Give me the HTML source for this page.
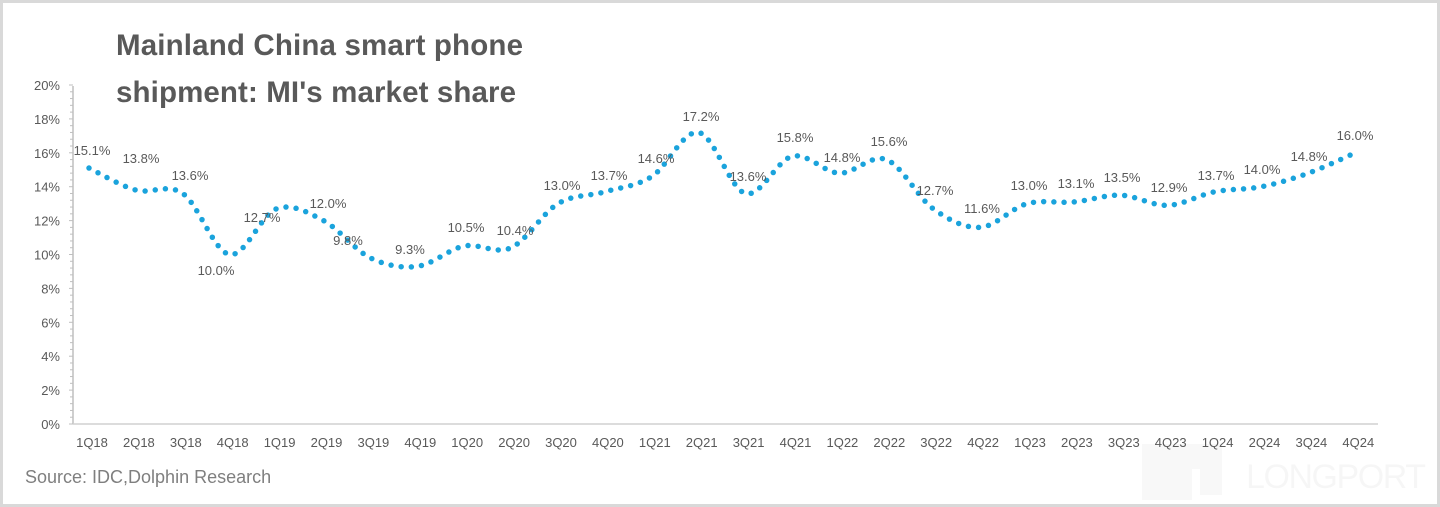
<!DOCTYPE html>
<html><head><meta charset="utf-8"><style>
html,body{margin:0;padding:0;background:#fff;}
#w{position:relative;width:1440px;height:507px;overflow:hidden;font-family:"Liberation Sans",sans-serif;}
</style></head><body><div id="w">
<svg id="s" width="1440" height="507" xmlns="http://www.w3.org/2000/svg" style="position:absolute;left:0;top:0">
<rect x="1.5" y="1.5" width="1437" height="504" fill="#fff" stroke="#d9d9d9" stroke-width="3"/>
<text x="116" y="55" font-size="29.5" font-weight="bold" fill="#595959" textLength="407">Mainland China smart phone</text>
<text x="116" y="102" font-size="29.5" font-weight="bold" fill="#595959" textLength="400">shipment: MI's market share</text>
<text x="25" y="483" font-size="18" fill="#7f7f7f">Source: IDC,Dolphin Research</text>
<g opacity="0.025" fill="#000"><rect x="1142" y="444" width="80" height="25"/><rect x="1142" y="460" width="50" height="40"/><rect x="1200" y="460" width="22" height="35"/></g>
<text x="1246" y="488" font-size="34" fill="#000" opacity="0.03" textLength="180">LONGPORT</text>
<g id="g"></g>
</svg>
<script>
var g=document.getElementById('g'),h='';
var y0=424,k=16.95;
h+='<line x1="73" y1="86" x2="73" y2="424" stroke="#bfbfbf" stroke-width="1.5"/>';
h+='<line x1="73" y1="424" x2="1378" y2="424" stroke="#d0d0d0" stroke-width="1.5"/>';
for(var i=0;i<=50;i++){var y=y0-i*0.4*k;h+='<line x1="'+(i%5==0?69:70)+'" y1="'+y+'" x2="73" y2="'+y+'" stroke="#bfbfbf" stroke-width="1"/>';}
for(var i=0;i<=10;i++){h+='<text x="60" y="'+(y0-i*2*k+5)+'" font-size="13" fill="#595959" text-anchor="end">'+(i*2)+'%</text>';}
var q=['1Q18','2Q18','3Q18','4Q18','1Q19','2Q19','3Q19','4Q19','1Q20','2Q20','3Q20','4Q20','1Q21','2Q21','3Q21','4Q21','1Q22','2Q22','3Q22','4Q22','1Q23','2Q23','3Q23','4Q23','1Q24','2Q24','3Q24','4Q24'];
var d=[15.1,13.8,13.6,10.0,12.7,12.0,9.8,9.3,10.5,10.4,13.0,13.7,14.6,17.2,13.6,15.8,14.8,15.6,12.7,11.6,13.0,13.1,13.5,12.9,13.7,14.0,14.8,16.0];
var L=[[92,150],[141,158],[190,175],[216,270],[262,217],[328,203],[348,240],[410,249],[466,227],[515,230],[562,185],[609,175],[656,158],[701,116],[748,176],[795,137],[842,157],[889,141],[935,190],[982,208],[1029,185],[1076,183],[1122,177],[1169,187],[1216,175],[1262,169],[1309,156],[1355,135]];
var dx=46.9,P=[];
for(var i=0;i<28;i++){var x=89+i*dx;P.push([x,y0-d[i]*k]);
h+='<text x="'+(x+3)+'" y="447" font-size="13" fill="#595959" text-anchor="middle">'+q[i]+'</text>';}
var p='M'+P[0][0]+','+P[0][1],t=1/6;
for(var i=0;i<27;i++){var a=P[Math.max(i-1,0)],b=P[i],c=P[i+1],e=P[Math.min(i+2,27)];
p+=' C'+(b[0]+(c[0]-a[0])*t)+','+(b[1]+(c[1]-a[1])*t)+' '+(c[0]-(e[0]-b[0])*t)+','+(c[1]-(e[1]-b[1])*t)+' '+c[0]+','+c[1];}
h+='<path d="'+p+'" fill="none" stroke="#1aa3dc" stroke-width="5.5" stroke-linecap="round" stroke-dasharray="0 10.2"/>';
for(var i=0;i<28;i++){h+='<text x="'+L[i][0]+'" y="'+(L[i][1]+5)+'" font-size="13" fill="#595959" text-anchor="middle">'+d[i].toFixed(1)+'%</text>';}
g.innerHTML=h;
</script>
</div></body></html>
